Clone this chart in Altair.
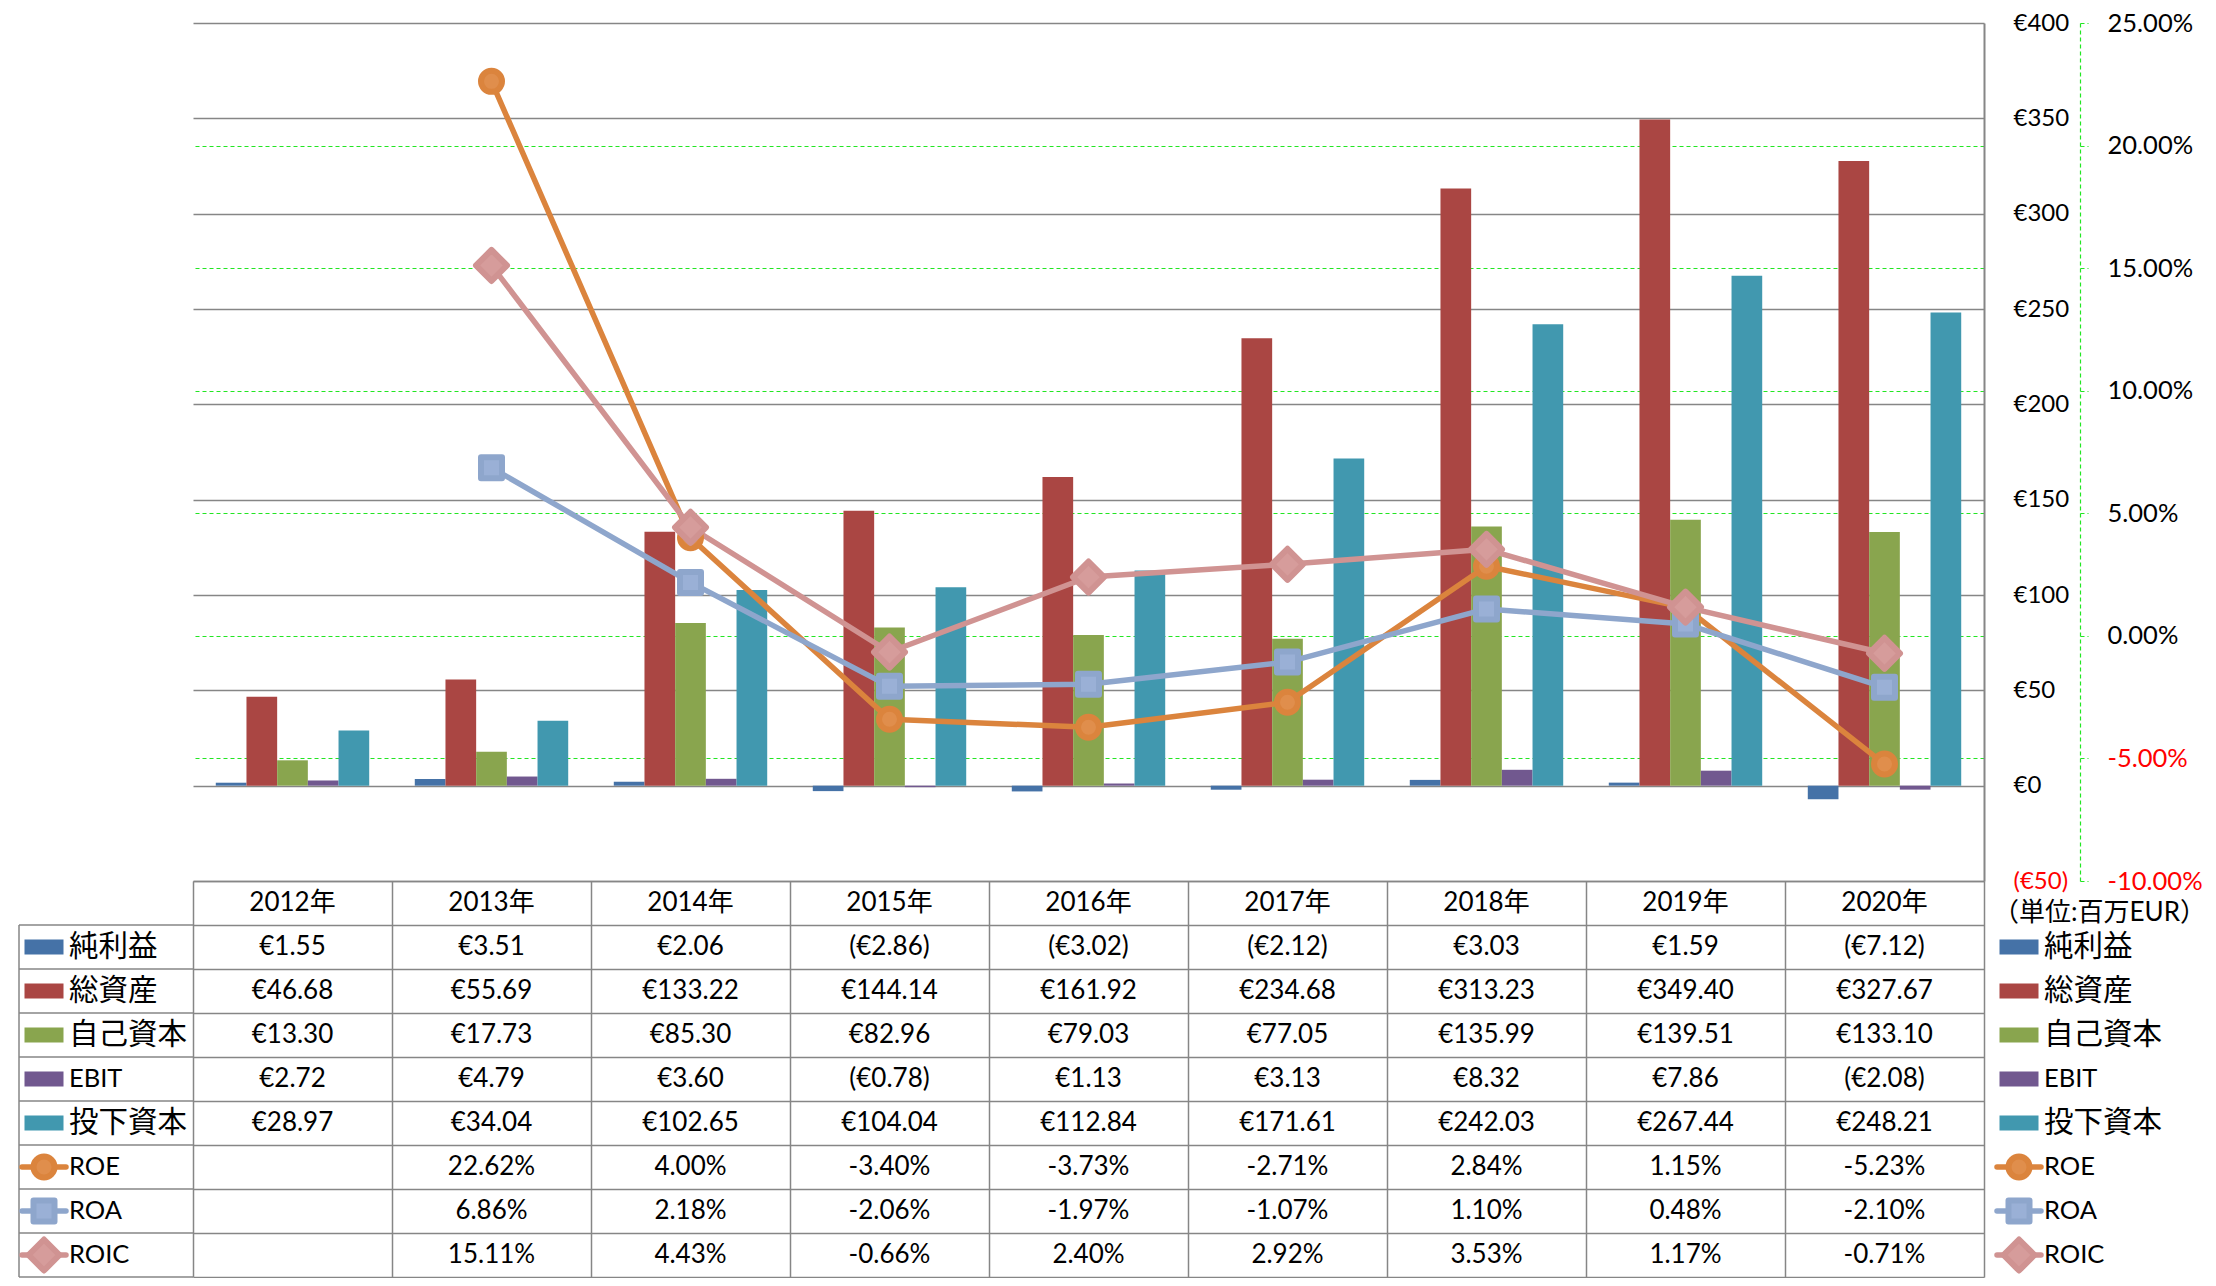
import altair as alt
import pandas as pd

# ---------------- data ----------------
years = ["2012年", "2013年", "2014年", "2015年", "2016年", "2017年", "2018年", "2019年", "2020年"]
bar_series = ["純利益", "総資産", "自己資本", "EBIT", "投下資本"]
line_series = ["ROE", "ROA", "ROIC"]

net_income = [1.55, 3.51, 2.06, -2.86, -3.02, -2.12, 3.03, 1.59, -7.12]
total_assets = [46.68, 55.69, 133.22, 144.14, 161.92, 234.68, 313.23, 349.40, 327.67]
equity = [13.30, 17.73, 85.30, 82.96, 79.03, 77.05, 135.99, 139.51, 133.10]
ebit = [2.72, 4.79, 3.60, -0.78, 1.13, 3.13, 8.32, 7.86, -2.08]
invested_capital = [28.97, 34.04, 102.65, 104.04, 112.84, 171.61, 242.03, 267.44, 248.21]
roe = [None, 22.62, 4.00, -3.40, -3.73, -2.71, 2.84, 1.15, -5.23]
roa = [None, 6.86, 2.18, -2.06, -1.97, -1.07, 1.10, 0.48, -2.10]
roic = [None, 15.11, 4.43, -0.66, 2.40, 2.92, 3.53, 1.17, -0.71]

eur_ticks = [-50, 0, 50, 100, 150, 200, 250, 300, 350, 400]
pct_ticks = [-10, -5, 0, 5, 10, 15, 20, 25]
unit_label = "（単位:百万EUR）"
header_key = "年度"

# ---------------- styles ----------------
bar_colors = ["#4572A7", "#AA4643", "#89A54E", "#71588F", "#4198AF"]
line_colors = ["#DB843D", "#8EA6CC", "#D09392"]
marker_fills = ["#E08E4C", "#9AB0D6", "#D69C9B"]
marker_shapes = ["circle", "square", "diamond"]
marker_sizes = [441, 441, 961]
FONT = "Lato, 'Noto Sans CJK JP', sans-serif"
GRAY = "#868686"
GREEN = "#22E622"

LEFT_W, PW, RIGHT_W = 185, 1791, 212
BOX_X = 11
PH = 858
ROW_H = 44
NUM_FS = 26
LEG_FS_CJK = 29.5
LEG_FS_LAT = 25.5

# ---------------- tables ----------------
bar_values = [net_income, total_assets, equity, ebit, invested_capital]
line_values = [roe, roa, roic]

bars_df = pd.DataFrame(
    [{"year": y, "series": s, "value": v}
     for s, vals in zip(bar_series, bar_values) for y, v in zip(years, vals)]
)
lines_df = pd.DataFrame(
    [{"year": y, "series": s, "value": v}
     for s, vals in zip(line_series, line_values) for y, v in zip(years, vals) if v is not None]
)


def eur_txt(v):
    return f"(€{abs(v):.2f})" if v < 0 else f"€{v:.2f}"


def pct_txt(v):
    return "" if v is None else f"{v:.2f}%"


table_rows = [header_key] + bar_series + line_series
cells = []
for y in years:
    cells.append({"year": y, "row": header_key, "label": y})
for s, vals in zip(bar_series, bar_values):
    for y, v in zip(years, vals):
        cells.append({"year": y, "row": s, "label": eur_txt(v)})
for s, vals in zip(line_series, line_values):
    for y, v in zip(years, vals):
        cells.append({"year": y, "row": s, "label": pct_txt(v)})
cells_df = pd.DataFrame(cells)

legend_rows = bar_series + line_series
legend_df = pd.DataFrame({"row": legend_rows})
legend_df["ascii"] = legend_df["row"].map(lambda t: t.isascii())
bar_leg_df = pd.DataFrame({"row": bar_series})
line_leg_df = pd.DataFrame({"row": line_series})

# ---------------- main plot ----------------
x_scale = alt.Scale(type="band", domain=years, paddingInner=0.229, paddingOuter=0.1145)
neg_red = {"condition": {"test": "datum.value < 0", "value": "#FF0000"}, "value": "#000000"}

y_eur = alt.Y(
    "value:Q", stack=None,
    scale=alt.Scale(domain=[-50, 400], nice=False, zero=False),
    axis=alt.Axis(
        orient="right", values=eur_ticks, grid=True, gridColor=GRAY, gridWidth=1.3,
        domain=True, domainColor=GRAY, domainWidth=2, ticks=False,
        labelPadding=29, labelAlign="left", labelBaseline="middle",
        labelFont=FONT, labelFontSize=24, labelFlush=False, labelOverlap=False,
        labelColor=neg_red,
        labelExpr="datum.value < 0 ? '(€' + format(-datum.value, 'd') + ')' : '€' + format(datum.value, 'd')",
        title=None,
    ),
)

y_pct = alt.Y(
    "value:Q",
    scale=alt.Scale(domain=[-10, 25], nice=False, zero=False),
    axis=alt.Axis(
        orient="right", offset=96, values=pct_ticks, grid=True, gridColor=GREEN,
        gridDash=[4, 3], gridWidth=1.2,
        gridOpacity={"condition": {"test": "datum.value >= 25 || datum.value <= -10", "value": 0}, "value": 1},
        domain=True, domainColor=GREEN, domainDash=[4, 3],
        domainWidth=1.2, ticks=True, tickSize=8, tickColor=GREEN, tickDash=[4, 3], tickWidth=1.2,
        labelPadding=19, labelAlign="left", labelBaseline="middle",
        labelFont=FONT, labelFontSize=25.5, labelFlush=False, labelOverlap=False,
        labelColor=neg_red,
        labelExpr="(datum.value < 0 ? '-' : '') + format(abs(datum.value), '.2f') + '%'",
        title=None,
    ),
)

bars = alt.Chart(bars_df).mark_bar().encode(
    x=alt.X("year:N", scale=x_scale, axis=None),
    xOffset=alt.XOffset("series:N", sort=bar_series,
                        scale=alt.Scale(domain=bar_series, paddingInner=0, paddingOuter=0)),
    y=y_eur,
    color=alt.Color("series:N", scale=alt.Scale(domain=bar_series, range=bar_colors), legend=None),
)

lines = alt.Chart(lines_df).mark_line(strokeWidth=5.5, strokeCap="round", strokeJoin="round").encode(
    x=alt.X("year:N", scale=x_scale, bandPosition=0.5, axis=None),
    y=y_pct,
    color=alt.Color("series:N", scale=alt.Scale(domain=line_series, range=line_colors), legend=None),
    detail="series:N",
)

point_layers = []
for s, shp, sz, fc, sc in zip(line_series, marker_shapes, marker_sizes, marker_fills, line_colors):
    point_layers.append(
        alt.Chart(lines_df[lines_df["series"] == s]).mark_point(
            shape=shp, size=sz, filled=True, opacity=1, fill=fc, stroke=sc,
            strokeWidth=6, strokeJoin="round"
        ).encode(
            x=alt.X("year:N", scale=x_scale, bandPosition=0.5, axis=None),
            y=y_pct,
        )
    )

plot = alt.layer(bars, alt.layer(lines, *point_layers)).resolve_scale(
    y="independent", color="independent"
).properties(width=PW, height=PH)


def spacer(w, h):
    return alt.Chart(pd.DataFrame({"s": [0]})).mark_point(opacity=0).properties(width=w, height=h)


# ---------------- data table ----------------
grid_axis_x = alt.Axis(orient="top", tickBand="extent", grid=True, gridColor=GRAY, gridWidth=1.5,
                       labels=False, ticks=False, domain=False, title=None)
grid_axis_y = alt.Axis(tickBand="extent", grid=True, gridColor=GRAY, gridWidth=1.5,
                       labels=False, ticks=False, domain=False, title=None)

TABLE_H = ROW_H * len(table_rows)

table = alt.Chart(cells_df).mark_text(font=FONT, fontSize=NUM_FS, color="#000000").encode(
    x=alt.X("year:N", scale=alt.Scale(domain=years, paddingInner=0, paddingOuter=0), axis=grid_axis_x),
    y=alt.Y("row:N", scale=alt.Scale(domain=table_rows, paddingInner=0, paddingOuter=0), axis=grid_axis_y),
    text="label:N",
).properties(width=PW, height=TABLE_H)

# ---------------- legends ----------------
row_scale = alt.Scale(domain=table_rows, paddingInner=0, paddingOuter=0)


def y_rows(pos=0.5):
    return alt.Y("row:N", scale=row_scale, axis=None, bandPosition=pos)


def legend_symbols(cx, x_line0, x_line1):
    layers = []
    layers.append(
        alt.Chart(bar_leg_df).mark_point(
            shape="M-1,-0.385H1V0.385H-1Z", size=1521, filled=True, opacity=1
        ).encode(
            x=alt.value(cx), y=y_rows(),
            color=alt.Color("row:N", scale=alt.Scale(domain=bar_series, range=bar_colors), legend=None),
        )
    )
    layers.append(
        alt.Chart(line_leg_df).mark_rule(strokeWidth=5.5, strokeCap="round").encode(
            x=alt.value(x_line0), x2=alt.value(x_line1), y=y_rows(),
            color=alt.Color("row:N", scale=alt.Scale(domain=line_series, range=line_colors), legend=None),
        )
    )
    for s, shp, sz, fc, sc in zip(line_series, marker_shapes, marker_sizes, marker_fills, line_colors):
        layers.append(
            alt.Chart(line_leg_df[line_leg_df["row"] == s]).mark_point(
                shape=shp, size=sz, filled=True, opacity=1, fill=fc, stroke=sc,
                strokeWidth=6, strokeJoin="round"
            ).encode(x=alt.value(cx), y=y_rows())
        )
    return layers


def legend_labels(x_px):
    cjk = alt.Chart(legend_df[~legend_df["ascii"]]).mark_text(
        font=FONT, fontSize=LEG_FS_CJK, align="left", baseline="middle", color="#000000"
    ).encode(x=alt.value(x_px), y=y_rows(), text="row:N")
    lat = alt.Chart(legend_df[legend_df["ascii"]]).mark_text(
        font=FONT, fontSize=LEG_FS_LAT, align="left", baseline="middle", color="#000000"
    ).encode(x=alt.value(x_px), y=y_rows(), text="row:N")
    return [cjk, lat]


# left legend column (row headers of the data table) with its cell borders
left_hlines = alt.Chart(legend_df).mark_rule(color=GRAY, strokeWidth=1.5).encode(
    y=y_rows(0), x=alt.value(BOX_X), x2=alt.value(LEFT_W)
)
left_bottom = alt.Chart(pd.DataFrame({"row": [line_series[-1]]})).mark_rule(color=GRAY, strokeWidth=1.5).encode(
    y=y_rows(1), x=alt.value(BOX_X), x2=alt.value(LEFT_W)
)
left_vline = alt.Chart(pd.DataFrame({"row": [line_series[-1]]})).mark_rule(color=GRAY, strokeWidth=1.5).encode(
    x=alt.value(BOX_X), y=alt.value(ROW_H), y2=alt.value(TABLE_H)
)

legend_left = alt.layer(
    left_hlines, left_bottom, left_vline, *legend_labels(BOX_X + 50),
    *legend_symbols(BOX_X + 25, BOX_X + 3, BOX_X + 47)
).resolve_scale(color="independent").properties(width=LEFT_W, height=TABLE_H)

# right legend
unit_text = alt.Chart(pd.DataFrame({"row": [header_key], "t": [unit_label]})).mark_text(
    font=FONT, fontSize=26, align="left", baseline="middle", dy=10, color="#000000"
).encode(x=alt.value(9), y=y_rows(), text="t:N")

legend_right = alt.layer(unit_text, *legend_labels(60), *legend_symbols(35, 13, 57)).resolve_scale(
    color="independent"
).properties(width=RIGHT_W, height=TABLE_H)

# ---------------- assemble (3x2 grid) ----------------
chart = alt.concat(
    spacer(LEFT_W, PH), plot, spacer(RIGHT_W, PH),
    legend_left, table, legend_right,
    columns=3, spacing=0, bounds="flush", align="each",
).properties(
    padding={"left": 0, "top": 3, "right": 0, "bottom": 0}, background="#FFFFFF"
).configure(font=FONT).configure_view(stroke=None, strokeWidth=0)

chart.save("out.html", embed_options={"renderer": "svg", "actions": False})
